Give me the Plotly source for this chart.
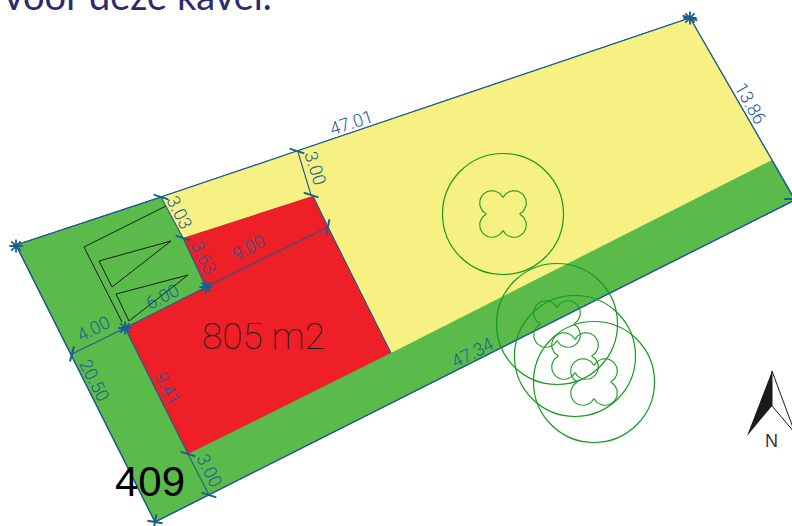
import numpy as np
import plotly.graph_objects as go

# Plot geometry (image pixels)
plot_x = [16, 161, 297, 690, 795, 155]
plot_y = [245, 197, 151, 18, 200, 522]
yellow_x = [161, 297, 690, 772, 391, 313, 183]
yellow_y = [197, 151, 18, 160, 353, 196, 238]
red_x = [125, 206, 183, 313, 328, 391, 188]
red_y = [328, 287, 238, 196, 227, 353, 454]

building_x = [166, 84, 122]
building_y = [206, 247, 322]
tri1_x = [99, 171, 112, 99]
tri1_y = [261, 241, 287, 261]
tri2_x = [116, 188, 129, 116]
tri2_y = [294, 275, 321, 294]

dim_lines = [
    ([125, 72], [328, 354]),
    ([206, 328], [287, 227]),
    ([298, 311], [152, 195]),
    ([188, 209], [454, 495]),
    ([125, 206], [328, 287]),
    ([161, 183], [197, 238]),
    ([183, 206], [238, 287]),
    ([125, 188], [328, 454]),
    ([313, 328], [196, 227]),
    ([328, 391], [227, 353]),
]

star_x = [16, 125, 206, 690]
star_y = [246, 328, 287, 18]
tick_x = [161, 183, 297, 311, 328, 188, 209, 155, 155, 792, 690, 72]
tick_y = [197, 238, 151, 195, 227, 454, 495, 522, 522, 199, 18, 354]
tick_angle = [18, 18, 18, 18, 100, 18, 18, 10, 100, 0, 18, 105]

tree_x = [503, 557, 575, 594]
tree_y = [214, 324, 356, 382]

north_dark_x = [772, 747, 772, 772]
north_dark_y = [371, 436, 406, 371]
north_light_x = [772, 772, 795, 795]
north_light_y = [371, 406, 433, 433]

dim_labels = ["47.01", "13.86", "3.00", "3.03", "3.63", "9.00", "6.00", "4.00", "20.50", "9.41", "3.00", "47.34"]
dim_label_x = [351, 751, 316, 180, 204, 248, 162, 93, 95, 168, 210, 472]
dim_label_y = [122, 103, 168, 212, 257, 247, 296, 328, 380, 388, 470, 352]
dim_label_angle = [-18, 60, 72, 63, 63, -27, -27, -27, 63, 63, 63, -27]

BLUE = "#1d5c91"
GREEN_LINE = "#169b1f"
BLACK = "#1a1a1a"

fig = go.Figure()


def poly(x, y, fill, line=None, width=1):
    fig.add_trace(go.Scatter(
        x=x, y=y, mode="lines", fill="toself", fillcolor=fill,
        line=dict(color=line or fill, width=width if line else 0),
        hoverinfo="skip", showlegend=False))


def line(x, y, color, width=1):
    fig.add_trace(go.Scatter(
        x=x, y=y, mode="lines", line=dict(color=color, width=width),
        hoverinfo="skip", showlegend=False))


poly(plot_x + plot_x[:1], plot_y + plot_y[:1], "#5abb4a", BLUE, 1.2)
poly(yellow_x + yellow_x[:1], yellow_y + yellow_y[:1], "#f7f183")
poly(red_x + red_x[:1], red_y + red_y[:1], "#ee1f27")
line(plot_x + plot_x[:1], plot_y + plot_y[:1], BLUE, 1.2)

for x, y in [(building_x, building_y), (tri1_x, tri1_y), (tri2_x, tri2_y)]:
    line(x, y, BLACK, 1)
for x, y in dim_lines:
    line(x, y, BLUE, 1.1)

# Tree crowns
fig.add_trace(go.Scatter(
    x=tree_x, y=tree_y, mode="markers",
    marker=dict(symbol="circle-open", size=121, color=GREEN_LINE, line=dict(color=GREEN_LINE, width=1.2)),
    hoverinfo="skip", showlegend=False))


# Four-lobed trunk outline, one arc per lobe between two cusps
def lobes(cx, cy, d=11.0, r=12.3, cusp=16.7):
    xs, ys = [], []
    for sx, sy in [(1, -1), (1, 1), (-1, 1), (-1, -1)]:
        lx, ly = d * sx, d * sy
        a1 = np.arctan2(sy * cusp - ly, 0.0 - lx)
        a2 = np.arctan2(0.0 - ly, sx * cusp - lx)
        mid = np.arctan2(sy, sx)
        da1 = (a1 - mid + np.pi) % (2 * np.pi) - np.pi
        da2 = (a2 - mid + np.pi) % (2 * np.pi) - np.pi
        t = mid + np.linspace(da1, da2, 24)
        xs += list(cx + lx + r * np.cos(t)) + [None]
        ys += list(cy + ly + r * np.sin(t)) + [None]
    return xs, ys


for cx, cy in zip(tree_x, tree_y):
    lx, ly = lobes(cx, cy)
    line(lx, ly, GREEN_LINE, 1.1)

# Survey point marks
fig.add_trace(go.Scatter(
    x=star_x, y=star_y, mode="markers",
    marker=dict(symbol="asterisk", size=11, color=BLUE, line=dict(color=BLUE, width=1.8)),
    hoverinfo="skip", showlegend=False))
fig.add_trace(go.Scatter(
    x=tick_x, y=tick_y, mode="markers",
    marker=dict(symbol="line-ew", size=11, angle=tick_angle, color=BLUE, line=dict(color=BLUE, width=2)),
    hoverinfo="skip", showlegend=False))

# North arrow
poly(north_light_x + north_light_x[:1], north_light_y + north_light_y[:1], "#ffffff", BLACK, 1)
poly(north_dark_x, north_dark_y, "#1a1a1a")

ann = []
for t, x, y, a in zip(dim_labels, dim_label_x, dim_label_y, dim_label_angle):
    ann.append(dict(text=t, x=x, y=y, textangle=a, showarrow=False,
                    font=dict(family="Roboto", size=18, color="#1a5c99", weight=300)))
ann.append(dict(text="805 m2", x=263, y=336, showarrow=False,
                font=dict(family="Roboto", size=37, color="#1a1a1a", weight=100)))
ann.append(dict(text="409", x=149.5, y=481, showarrow=False,
                font=dict(family="Liberation Sans", size=42, color="#000000")))
ann.append(dict(text="N", x=771, y=441, showarrow=False,
                font=dict(family="Liberation Sans", size=18, color="#333333")))
ann.append(dict(text="voor deze kavel.", x=2, y=12, xanchor="left", yanchor="bottom", yshift=-8, showarrow=False,
                font=dict(family="Lato", size=38, color="#2b2a6b")))

fig.update_layout(
    width=792, height=526, margin=dict(l=0, r=0, t=0, b=0),
    paper_bgcolor="white", plot_bgcolor="white", showlegend=False,
    xaxis=dict(range=[0, 792], visible=False, fixedrange=True),
    yaxis=dict(range=[526, 0], visible=False, fixedrange=True),
    annotations=ann,
)
fig.write_html("out.html", post_script="document.body.style.margin='0';", config={"displayModeBar": False})
